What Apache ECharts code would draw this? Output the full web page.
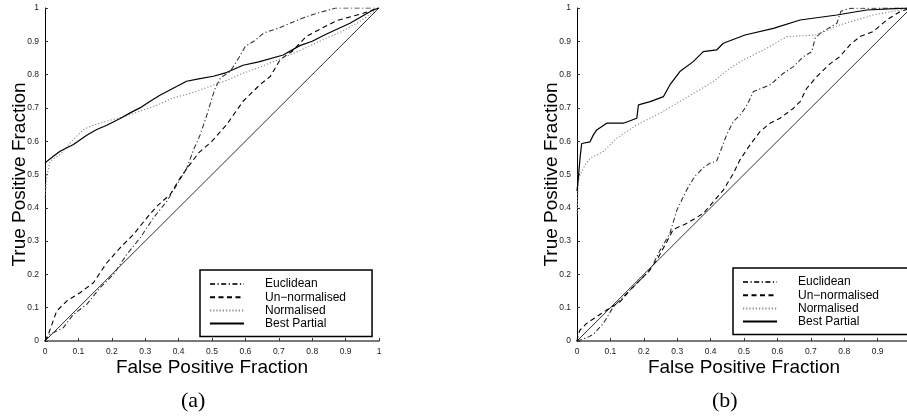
<!DOCTYPE html>
<html>
<head>
<meta charset="utf-8">
<script src="https://cdn.jsdelivr.net/npm/echarts@6/dist/echarts.min.js"></script>
<style>html,body{margin:0;padding:0;background:#fff;}#c{width:907px;height:419px;}</style>
</head>
<body>
<div id="c"></div>
<script>
// ---- Data (x = False Positive Fraction, y = True Positive Fraction) ----
const seriesNames = ['Euclidean', 'Un\u2212normalised', 'Normalised', 'Best Partial'];
const xTicks = [0, 0.1, 0.2, 0.3, 0.4, 0.5, 0.6, 0.7, 0.8, 0.9, 1];
const panelLabels = ['(a)', '(b)'];

// Panel (a)
const aEuclidean = [[0,0],[0.015,0.02],[0.055,0.04],[0.085,0.08],[0.125,0.11],[0.165,0.16],[0.205,0.2],[0.245,0.26],[0.285,0.31],[0.325,0.37],[0.365,0.42],[0.395,0.47],[0.425,0.52],[0.445,0.575],[0.465,0.62],[0.485,0.68],[0.5,0.73],[0.51,0.76],[0.525,0.79],[0.555,0.81],[0.58,0.85],[0.6,0.885],[0.625,0.9],[0.655,0.925],[0.7,0.94],[0.76,0.965],[0.8,0.98],[0.87,1.0],[1,1]];
const aUnnormalised = [[0,0],[0.01,0.02],[0.035,0.09],[0.065,0.12],[0.105,0.145],[0.145,0.175],[0.185,0.235],[0.225,0.28],[0.265,0.32],[0.305,0.37],[0.335,0.405],[0.375,0.44],[0.405,0.49],[0.43,0.525],[0.46,0.565],[0.5,0.6],[0.544,0.65],[0.593,0.72],[0.644,0.77],[0.675,0.795],[0.704,0.845],[0.74,0.87],[0.783,0.915],[0.83,0.94],[0.873,0.962],[0.952,0.984],[1,1]];
const aNormalised = [[0,0.43],[0.005,0.49],[0.015,0.54],[0.045,0.56],[0.08,0.6],[0.115,0.635],[0.15,0.65],[0.185,0.66],[0.24,0.675],[0.284,0.69],[0.34,0.71],[0.384,0.73],[0.44,0.745],[0.494,0.765],[0.55,0.785],[0.593,0.804],[0.65,0.825],[0.733,0.859],[0.78,0.88],[0.833,0.905],[0.89,0.93],[0.943,0.96],[1,1]];
const aBestPartial = [[0,0.535],[0.005,0.54],[0.025,0.555],[0.045,0.57],[0.085,0.59],[0.125,0.618],[0.155,0.635],[0.185,0.648],[0.225,0.668],[0.255,0.685],[0.284,0.7],[0.315,0.72],[0.344,0.738],[0.394,0.764],[0.424,0.78],[0.46,0.787],[0.504,0.795],[0.54,0.805],[0.593,0.828],[0.64,0.838],[0.713,0.859],[0.763,0.887],[0.8,0.9],[0.843,0.922],[0.913,0.954],[0.982,0.994],[1,1]];

// Panel (b)
const bEuclidean = [[0,0],[0.03,0.01],[0.049,0.02],[0.079,0.053],[0.109,0.103],[0.149,0.143],[0.189,0.183],[0.219,0.213],[0.249,0.273],[0.278,0.323],[0.299,0.393],[0.328,0.453],[0.353,0.495],[0.378,0.52],[0.398,0.534],[0.418,0.54],[0.448,0.619],[0.468,0.659],[0.49,0.68],[0.51,0.71],[0.528,0.749],[0.578,0.769],[0.618,0.804],[0.648,0.824],[0.678,0.854],[0.703,0.869],[0.713,0.909],[0.728,0.924],[0.778,0.954],[0.79,0.99],[0.817,0.999],[1,1]];
const bUnnormalised = [[0,0],[0.004,0.02],[0.009,0.033],[0.029,0.053],[0.059,0.073],[0.089,0.093],[0.129,0.118],[0.159,0.153],[0.179,0.173],[0.209,0.203],[0.239,0.243],[0.269,0.298],[0.288,0.335],[0.328,0.353],[0.378,0.383],[0.408,0.418],[0.438,0.453],[0.468,0.503],[0.488,0.544],[0.518,0.589],[0.548,0.629],[0.578,0.654],[0.608,0.669],[0.648,0.699],[0.668,0.719],[0.688,0.759],[0.718,0.794],[0.753,0.829],[0.787,0.854],[0.817,0.889],[0.847,0.914],[0.887,0.929],[0.927,0.964],[0.967,0.989],[1,1]];
const bNormalised = [[0,0.38],[0.004,0.48],[0.01,0.5],[0.025,0.53],[0.039,0.549],[0.079,0.569],[0.119,0.609],[0.179,0.649],[0.239,0.679],[0.299,0.714],[0.358,0.749],[0.408,0.779],[0.458,0.819],[0.498,0.844],[0.568,0.879],[0.628,0.914],[0.718,0.919],[0.787,0.949],[0.887,0.979],[0.967,0.994],[1,1]];
const bBestPartial = [[0,0.45],[0.004,0.489],[0.009,0.549],[0.014,0.593],[0.039,0.598],[0.049,0.619],[0.059,0.634],[0.089,0.654],[0.139,0.654],[0.179,0.669],[0.184,0.709],[0.219,0.719],[0.259,0.734],[0.278,0.769],[0.308,0.809],[0.348,0.839],[0.378,0.869],[0.418,0.874],[0.438,0.894],[0.503,0.919],[0.588,0.939],[0.668,0.964],[0.778,0.979],[0.867,0.994],[0.967,0.999],[1,1]];

const chanceLine = [[0,0],[1,1]];

// ---- Styles ----
const styles = [
  {color:'#333', width:1.1, type:[5,2.5,1.2,2.5]},
  {color:'#000', width:1.1, type:[5,3.5]},
  {color:'#888', width:1.1, type:[1.2,2]},
  {color:'#000', width:1.2, type:'solid'}
];
const FONT = 'Liberation Sans, Arial, Helvetica, sans-serif';

function xAxisFor(i){
  return {
    gridIndex:i, type:'value', min:0, max:1, interval:0.1,
    axisLine:{onZero:false, lineStyle:{color:'#7a7a7a', width:2}},
    axisTick:{inside:true, length:3, lineStyle:{color:'#333'}},
    axisLabel:{fontSize:8.5, color:'#222', margin:6, fontFamily:FONT},
    splitLine:{show:false},
    name:'False Positive Fraction', nameLocation:'middle', nameGap:17, nameMoveOverlap:false,
    nameTextStyle:{fontSize:19, color:'#000', fontFamily:FONT}
  };
}
function yAxisFor(i){
  return {
    gridIndex:i, type:'value', min:0, max:1, interval:0.1,
    axisLine:{onZero:false, lineStyle:{color:'#000', width:1}},
    axisTick:{inside:true, length:3, lineStyle:{color:'#333'}},
    axisLabel:{fontSize:8.5, color:'#222', margin:6, fontFamily:FONT},
    splitLine:{show:false},
    name:'True Positive Fraction', nameLocation:'middle', nameGap:16, nameMoveOverlap:false,
    nameTextStyle:{fontSize:19, color:'#000', fontFamily:FONT}
  };
}
function lineSeries(name, data, st, idx){
  return {
    name:name, type:'line', xAxisIndex:idx, yAxisIndex:idx, data:data,
    symbol:'none', showSymbol:false, smooth:false, animation:false,
    lineStyle:{color:st.color, width:st.width, type:st.type},
    itemStyle:{color:st.color}
  };
}
const panels = [
  [aEuclidean, aUnnormalised, aNormalised, aBestPartial],
  [bEuclidean, bUnnormalised, bNormalised, bBestPartial]
];
const series = [];
panels.forEach((p, idx) => {
  series.push({type:'line', xAxisIndex:idx, yAxisIndex:idx, data:chanceLine, symbol:'none', silent:true,
    lineStyle:{color:'#333', width:1}, animation:false});
  p.forEach((d, k) => series.push(lineSeries(seriesNames[k], d, styles[k], idx)));
});

function legendAt(left, top, padRight){
  return {
    data:seriesNames, orient:'vertical', left:left, top:top,
    itemWidth:34, itemHeight:10, itemGap:1.2,
    backgroundColor:'#fff', borderColor:'#000', borderWidth:1.5,
    padding:[8, padRight, 7, 9], selectedMode:false,
    itemStyle:{opacity:0},
    textStyle:{fontSize:12, color:'#000', fontFamily:FONT, padding:[0,0,0,16], lineHeight:11}
  };
}

const chart = echarts.init(document.getElementById('c'), null, {renderer:'canvas'});
chart.setOption({
  animation:false,
  backgroundColor:'#fff',
  grid:[
    {left:45, width:334, top:8, bottom:78, outerBoundsMode:'none', containLabel:false},
    {left:577, width:334, top:8, bottom:78, outerBoundsMode:'none', containLabel:false}
  ],
  xAxis:[xAxisFor(0), xAxisFor(1)],
  yAxis:[yAxisFor(0), yAxisFor(1)],
  legend:[legendAt(200, 270, 26), legendAt(733, 268, 40)],
  series:series,
  graphic:[
    {type:'text', left:196-15, top:390, style:{text:panelLabels[0], font:'22px "Liberation Serif", "DejaVu Serif", serif', fill:'#000'}},
    {type:'text', left:727-15, top:390, style:{text:panelLabels[1], font:'22px "Liberation Serif", "DejaVu Serif", serif', fill:'#000'}}
  ]
});
</script>
</body>
</html>
